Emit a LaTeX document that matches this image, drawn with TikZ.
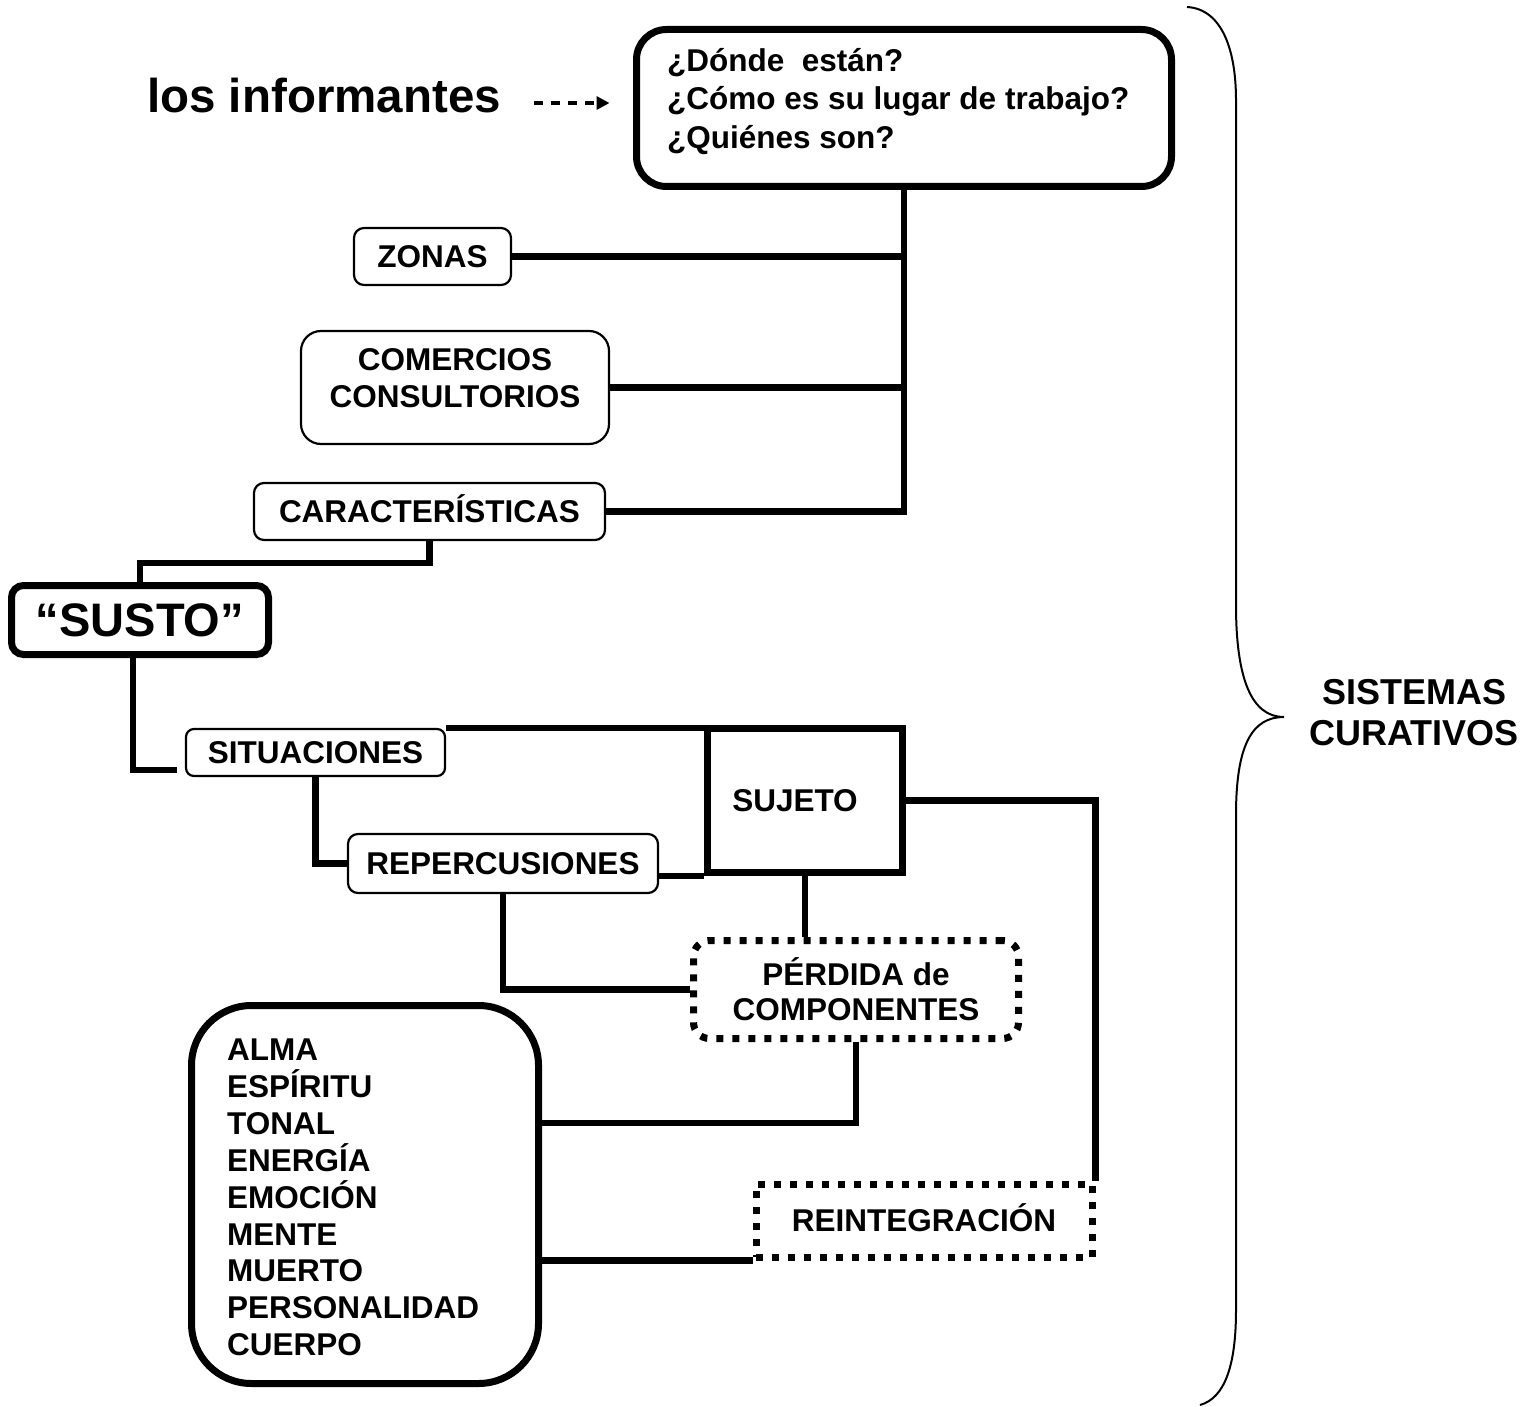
\documentclass[tikz,border=0pt]{standalone}
\usepackage{fontspec}
\setmainfont{Liberation Sans}
\usetikzlibrary{arrows.meta}

\newcommand{\boxfont}{\fontsize{31.5}{37}\selectfont\bfseries}

\begin{document}
\begin{tikzpicture}[x=1pt, y=-1pt,
    every node/.style = {inner sep=0pt, font=\boxfont},
    thinbox/.style = {draw, line width=2.2pt, rounded corners=10pt},
    thickbox/.style = {draw, line width=7pt, rounded corners=#1},
    thickbox/.default = 12pt,
    dotbox/.style = {draw, line width=7pt, dash pattern=on 7pt off 9pt},
    oneline/.style = {text height=22.5pt, text depth=0pt},
    conn/.style = {line width=6.5pt},
    dasharrow/.style = {line width=4pt, dash pattern=on 9pt off 8pt,
                        -{Triangle[length=13pt,width=13pt]}},
  ]
  \useasboundingbox (0,0) rectangle (1539,1407);

  % upper part
  \node[anchor=base west, font=\fontsize{47.5}{57}\selectfont\bfseries] (inf) at (147,113) {los informantes};
  \node[thickbox=30pt, minimum width=535pt, minimum height=157pt] (quest) at (904,108) {};
  \node[anchor=west, align=left, font=\fontsize{31.5}{38.5}\selectfont\bfseries] (questtxt) at (667,101.5)
       {¿Dónde\ \ están?\\¿Cómo es su lugar de trabajo?\\¿Quiénes son?};
  \node[thinbox, oneline, minimum width=157pt, minimum height=57pt] (zonas) at (432.5,256.5) {ZONAS};
  \node[thinbox, rounded corners=20pt, minimum width=308pt, minimum height=113pt] (comercios) at (455,387.5) {};
  \node[align=center] (comtxt) at (455,378.5) {COMERCIOS\\CONSULTORIOS};
  \node[thinbox, oneline, minimum width=351pt, minimum height=57pt] (caract) at (429.5,511.5) {CARACTERÍSTICAS};
  \node[thickbox, text height=33.6pt, text depth=0pt, minimum width=257pt, minimum height=69pt,
        font=\fontsize{47}{56}\selectfont\bfseries] (susto) at (140,620) {“SUSTO”};

  % lower part
  \node[thinbox, rounded corners=8pt, oneline, minimum width=259pt, minimum height=47pt] (situ) at (315.5,752.5) {SITUACIONES};
  \node[draw, line width=7pt, oneline, minimum width=194.5pt, minimum height=144pt] (sujeto) at (805,800.5) {SUJETO\hspace*{20pt}};
  \node[thinbox, oneline, minimum width=310pt, minimum height=59pt] (reperc) at (503,863.5) {REPERCUSIONES};
  \node[dotbox, rounded corners=16pt, align=center, minimum width=325pt, minimum height=98pt,
        font=\fontsize{31.5}{35}\selectfont\bfseries] (perdida) at (856,989.5) {PÉRDIDA de\\COMPONENTES};
  \node[thickbox=60pt, minimum width=347pt, minimum height=378pt] (alma) at (365,1194.5) {};
  \node[anchor=west, align=left, font=\fontsize{31.5}{36.9}\selectfont\bfseries] (almatxt) at (227,1197.5)
       {ALMA\\ESPÍRITU\\TONAL\\ENERGÍA\\EMOCIÓN\\MENTE\\MUERTO\\PERSONALIDAD\\CUERPO};
  \node[dotbox, oneline, minimum width=336pt, minimum height=73pt] (reint) at (924,1220.5) {REINTEGRACIÓN};
  \node[align=center, font=\fontsize{36}{41}\selectfont\bfseries] (sist) at (1414,712.5) {SISTEMAS\\CURATIVOS};

  % connectors
  \draw[dasharrow, shorten <=33pt, shorten >=23.5pt] ([yshift=-7pt]inf.east) -- ([yshift=-7pt]inf.east -| quest.west);
  \draw[conn] (quest.south) |- (caract.east);
  \draw[conn] (zonas.east) -- (zonas.east -| quest.south);
  \draw[conn] (comercios.east) -- (comercios.east -| quest.south);
  \draw[conn] (caract.south) -- ++(0,22) -| (susto.north);
  \draw[conn, shorten >=8pt] ([xshift=-7pt]susto.south) |- ([yshift=-17.5pt]situ.west);
  \draw[conn] (situ.north east) -- (situ.north east -| sujeto.west);
  \draw[conn] (situ.south) |- (reperc.west);
  \draw[conn] (reperc.east |- sujeto.south) -- (sujeto.south west);
  \draw[conn] (sujeto.south) -- (sujeto.south |- perdida.north);
  \draw[conn] (reperc.south) |- (perdida.west);
  \draw[conn] (sujeto.east) -| (reint.north east);
  \draw[conn] (perdida.south) |- ([yshift=71.5pt]alma.east);
  \draw[conn] (alma.east |- reint.south west) -- (reint.south west);

  % brace
  \draw[line width=2pt] (1187,7) .. controls (1222,9) and (1236,50) .. (1236,100) -- (1236,605)
       .. controls (1236,680) and (1252,717) .. (1284,717)
       .. controls (1252,717) and (1236,745) .. (1236,815) -- (1236,1310)
       .. controls (1236,1365) and (1225,1398) .. (1200,1405);
\end{tikzpicture}
\end{document}
